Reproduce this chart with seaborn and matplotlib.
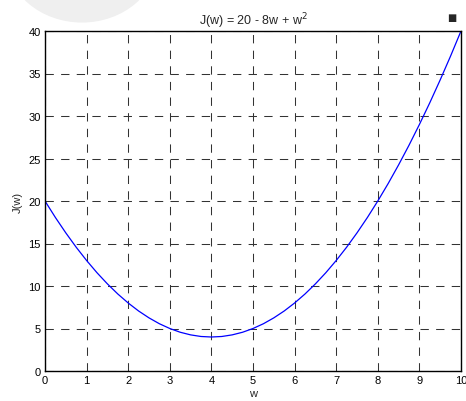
import matplotlib
matplotlib.use("Agg")
import matplotlib.pyplot as plt
import seaborn as sns
import pandas as pd
from matplotlib.patches import Circle

w_values = [0, 0.25, 0.5, 0.75, 1, 1.25, 1.5, 1.75, 2, 2.25, 2.5, 2.75, 3, 3.25, 3.5, 3.75,
            4, 4.25, 4.5, 4.75, 5, 5.25, 5.5, 5.75, 6, 6.25, 6.5, 6.75, 7, 7.25, 7.5, 7.75,
            8, 8.25, 8.5, 8.75, 9, 9.25, 9.5, 9.75, 10]
j_values = [20, 18.06, 16.25, 14.56, 13, 11.56, 10.25, 9.06, 8, 7.06, 6.25, 5.56, 5, 4.56, 4.25, 4.06,
            4, 4.06, 4.25, 4.56, 5, 5.56, 6.25, 7.06, 8, 9.06, 10.25, 11.56, 13, 14.56, 16.25, 18.06,
            20, 22.06, 24.25, 26.56, 29, 31.56, 34.25, 37.06, 40]
x_ticks = [0, 1, 2, 3, 4, 5, 6, 7, 8, 9, 10]
y_ticks = [0, 5, 10, 15, 20, 25, 30, 35, 40]

sns.set_theme(style="white")
plt.rcParams['font.family'] = ['Liberation Sans', 'DejaVu Sans']

fig = plt.figure(figsize=(4.66, 4.02), dpi=100)
fig.patches.append(Circle((82/466, 1 + 42/402), 76/466, transform=fig.transFigure,
                          facecolor='#efefef', edgecolor='none', zorder=0))
ax = fig.add_axes([45/466, 30/402, 416/466, 340/402])

df = pd.DataFrame({"w": w_values, "J": j_values})
sns.lineplot(data=df, x="w", y="J", ax=ax, color="#0000ff", linewidth=0.9)

ax.set_xlim(0, 10)
ax.set_ylim(0, 40)
ax.set_xticks(x_ticks)
ax.set_yticks(y_ticks)
ax.tick_params(direction='in', length=4, width=0.8, labelsize=8, colors='black', pad=3)
ax.grid(True, color='#333333', linestyle=(0, (8, 7)), linewidth=0.75)
for s in ax.spines.values():
    s.set_color('black')
    s.set_linewidth(1.0)
ax.set_xlabel("w", fontsize=8, labelpad=2)
ax.set_ylabel("J(w)", fontsize=8, labelpad=4)
ax.set_title("J(w) = 20 - 8w + w$^2$", fontsize=9, pad=5)
fig.text(452/466, 1 - 18/402, "■", fontsize=7, ha='center', va='center', family=['DejaVu Sans'])

fig.savefig("out.png", dpi=100)
